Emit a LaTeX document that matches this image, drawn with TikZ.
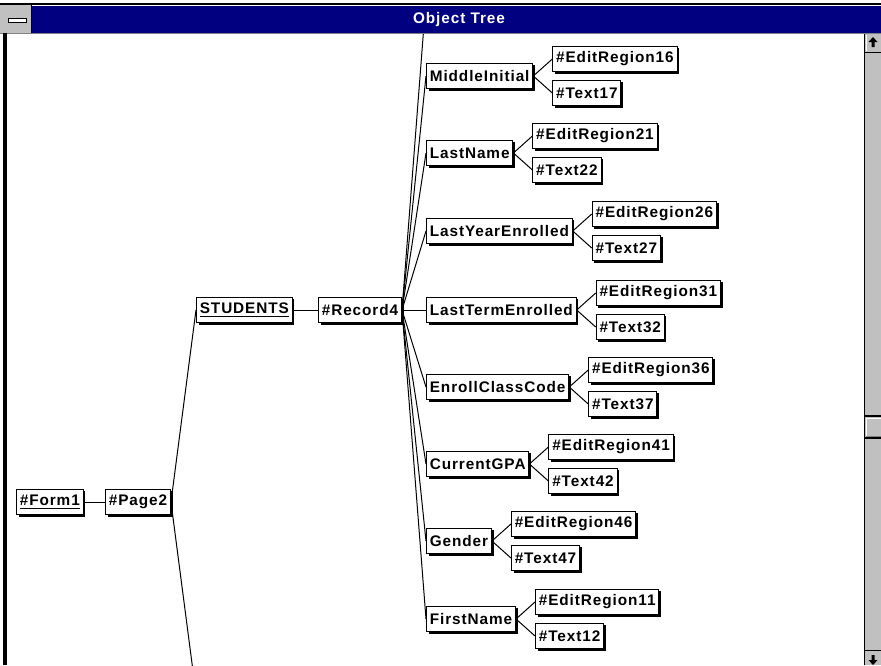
\documentclass[tikz,border=0pt]{standalone}
\usepackage{fontspec}
\setmainfont{Liberation Sans}
\newfontfamily\objfont{Liberation Sans}[LetterSpace=6]
\usetikzlibrary{calc, shadows}
\definecolor{winnavy}{RGB}{0,0,128}
\definecolor{wingray}{RGB}{192,192,192}
\definecolor{windark}{RGB}{128,128,128}
\tikzset{
  obj/.style={draw, line width=0.75pt, fill=white, anchor=west,
    font=\objfont\fontsize{11.5}{13}\selectfont\bfseries,
    minimum height=19pt, inner xsep=2.5pt, inner ysep=0pt,
    drop shadow={shadow xshift=1.6pt, shadow yshift=-1.6pt, fill=black, opacity=1}},
  link/.style={line width=0.75pt},
}

\begin{document}
\begin{tikzpicture}[x=0.75pt, y=-0.75pt]
  \useasboundingbox (0,0) rectangle (881,665);

  % window frame and title bar
  \draw[line width=1.5pt] (0,3.5) -- (881,3.5);
  \fill[winnavy] (31,6) rectangle (881,33);
  \fill[wingray] (0,5) rectangle (31,33);
  \draw[line width=0.75pt] (31,5) -- (31,33);
  \draw[line width=0.75pt, fill=white] (8,18) rectangle (26,22);
  \draw[line width=0.75pt, windark] (0,33.5) -- (881,33.5);
  \node[text=white, font=\objfont\fontsize{11.5}{13}\selectfont\bfseries] (title) at (459,20) {Object Tree};
  \draw[line width=2.5pt] (5,33) -- (5,665);

  % scroll bar
  \fill[wingray] (864,34) rectangle (881,665);
  \draw[line width=0.75pt] (864.5,34) -- (864.5,665);
  \draw[line width=0.75pt] (864.5,52) -- (881,52);
  \draw[line width=0.75pt, white] (866,35) -- (866,51);
  \fill (873,37) -- (877.5,42) -- (874.5,42) -- (874.5,47) -- (871.5,47) -- (871.5,42) -- (868.5,42) -- cycle;
  \draw[line width=1.2pt] (864.5,416) -- (881,416);
  \draw[line width=1.2pt] (864.5,438) -- (881,438);
  \draw[line width=0.75pt, white] (866,418) -- (881,418);
  \draw[line width=0.75pt, white] (866,418) -- (866,436);
  \draw[line width=0.75pt, windark] (866,436) -- (881,436);
  \draw[line width=0.75pt] (864.5,650) -- (881,650);
  \fill (873,665) -- (877.5,660) -- (874.5,660) -- (874.5,655) -- (871.5,655) -- (871.5,660) -- (868.5,660) -- cycle;

  % tree
  \node[obj] (form) at (16,502) {\underline{\#Form1}};
  \node[obj] (page) at (105,502) {\#Page2};
  \node[obj] (stud) at (196,310) {\underline{STUDENTS}};
  \node[obj] (rec) at (318,310) {\#Record4};
  \coordinate (pagemore) at (196,694);
  \coordinate (recmore) at (426,-1);

  \draw[link] (form) -- (page);
  \draw[link] (stud) -- (rec);
  \draw[link] (page.east) -- (stud.west);
  \begin{scope}
    \clip (7,34) rectangle (864,665);
    \draw[link] (page.east) -- (pagemore);
    \draw[link] (rec.east) -- (recmore);
  \end{scope}

  \foreach \n/\lbl/\y/\e/\t in {mid/MiddleInitial/76/16/17, last/LastName/153/21/22,
      lye/LastYearEnrolled/231/26/27, lte/LastTermEnrolled/310/31/32,
      ecc/EnrollClassCode/387/36/37, gpa/CurrentGPA/464/41/42,
      gen/Gender/541/46/47, first/FirstName/619/11/12} {
    \node[obj] (\n) at (426,\y) {\lbl};
    \node[obj] (\n-e) at ($(\n.east)+(19,-17)$) {\#EditRegion\e};
    \node[obj] (\n-t) at ($(\n.east)+(19,17)$) {\#Text\t};
    \draw[link] (rec.east) -- (\n.west);
    \draw[link] (\n.east) -- (\n-e.west);
    \draw[link] (\n.east) -- (\n-t.west);
  }
\end{tikzpicture}
\end{document}
